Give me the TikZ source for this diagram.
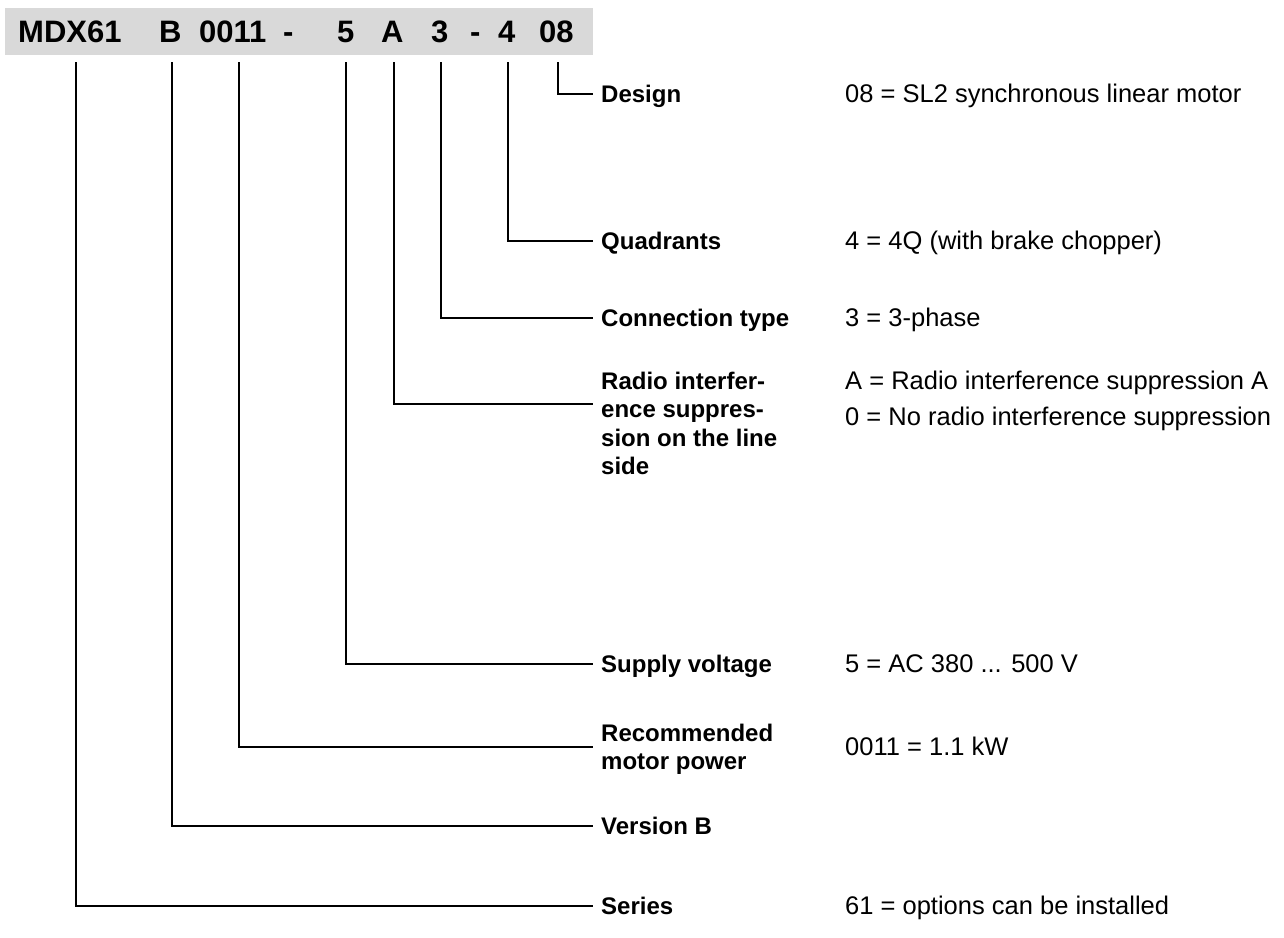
\documentclass[tikz,border=0pt]{standalone}
\usepackage{fontspec}
\setmainfont{Liberation Sans}
\begin{document}
\begin{tikzpicture}[x=1pt,y=-1pt,
  code/.style={anchor=base west, inner sep=0pt, font=\bfseries\fontsize{31}{36}\selectfont},
  lbl/.style={anchor=base west, inner sep=0pt, font=\bfseries\fontsize{24}{28.5}\selectfont},
  val/.style={anchor=base west, inner sep=0pt, font=\fontsize{25.5}{28.5}\selectfont},
  conn/.style={line width=2.8pt, line join=miter, black}]
\useasboundingbox (0,0) rectangle (1284,937);
\definecolor{barfill}{HTML}{D9D9D9}
\fill[barfill] (5,8) rectangle (593,55);
% code tokens
\node[code] (tA) at (18,42) {MDX61};
\node[code] (tB) at (159,42) {B};
\node[code] (tC) at (199,42) {0011};
\node[code] (tD) at (283,42) {-};
\node[code] (tE) at (337,42) {5};
\node[code] (tF) at (381,42) {A};
\node[code] (tG) at (431,42) {3};
\node[code] (tH) at (470,42) {-};
\node[code] (tI) at (498,42) {4};
\node[code] (tJ) at (539,42) {08};
% line starts below the code letters
\coordinate (sA) at (76,62);
\coordinate (sB) at (172,62);
\coordinate (sC) at (239,62);
\coordinate (sE) at (346,62);
\coordinate (sF) at (394,62);
\coordinate (sG) at (441,62);
\coordinate (sI) at (508,62);
\coordinate (sJ) at (558,62);
% line ends
\coordinate (eJ) at (593,94);
\coordinate (eI) at (593,241);
\coordinate (eG) at (593,318);
\coordinate (eF) at (593,404);
\coordinate (eE) at (593,664);
\coordinate (eC) at (593,747);
\coordinate (eB) at (593,826);
\coordinate (eA) at (593,906);
% connectors
\draw[conn] (sJ) |- (eJ);
\draw[conn] (sI) |- (eI);
\draw[conn] (sG) |- (eG);
\draw[conn] (sF) |- (eF);
\draw[conn] (sE) |- (eE);
\draw[conn] (sC) |- (eC);
\draw[conn] (sB) |- (eB);
\draw[conn] (sA) |- (eA);
% labels
\node[lbl] (lJ) at (601,102) {Design};
\node[lbl] (lI) at (601,249) {Quadrants};
\node[lbl] (lG) at (601,326) {Connection type};
\node[lbl] (lF) at (601,389) {\begin{tabular}[t]{@{}l@{}}Radio interfer-\\ence suppres-\\sion on the line\\side\end{tabular}};
\node[lbl] (lE) at (601,672) {Supply voltage};
\node[lbl] (lC) at (601,741) {\begin{tabular}[t]{@{}l@{}}Recommended\\motor power\end{tabular}};
\node[lbl] (lB) at (601,834) {Version B};
\node[lbl] (lA) at (601,914) {Series};
% values
\node[val] (vJ) at (845,102) {08 = SL2 synchronous linear motor};
\node[val] (vI) at (845,249) {4 = 4Q (with brake chopper)};
\node[val] (vG) at (845,326) {3 = 3-phase};
\node[val] (vF1) at (845,389) {A = Radio interference suppression A};
\node[val] (vF2) at (845,425) {0 = No radio interference suppression};
\node[val] (vE) at (845,672) {5 = AC 380 ... 500 V};
\node[val] (vC) at (845,755) {0011 = 1.1 kW};
\node[val] (vA) at (845,914) {61 = options can be installed};
\end{tikzpicture}
\end{document}
